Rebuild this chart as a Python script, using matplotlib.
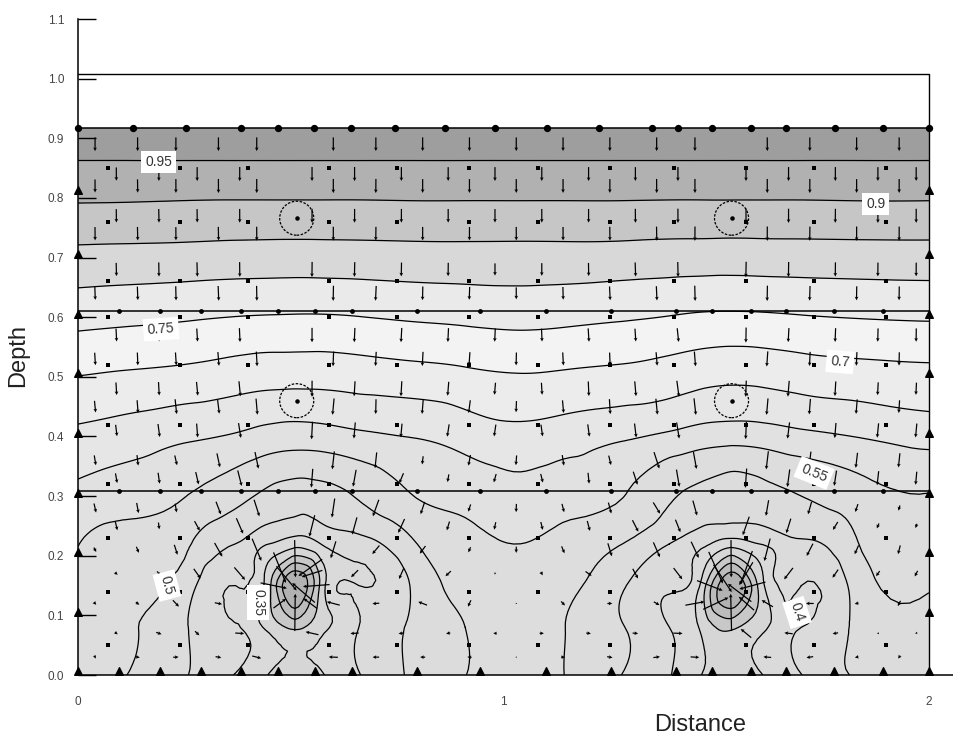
import numpy as np
import matplotlib
matplotlib.use("Agg")
import matplotlib.pyplot as plt
import matplotlib.tri as mtri
from matplotlib.patches import Ellipse

plt.rcParams['font.family'] = ['Liberation Sans', 'DejaVu Sans']

# total head at mesh nodes (rows = node_y, cols = node_x)
node_x = [0.0, 0.12, 0.25, 0.37, 0.45, 0.51, 0.57, 0.66, 0.78, 0.91,
          1.04, 1.14, 1.28, 1.39, 1.47, 1.535, 1.60, 1.70, 1.82, 2.0]
node_y = [0.0, 0.08, 0.15, 0.22, 0.31, 0.40, 0.50, 0.61, 0.70, 0.79, 0.86, 0.917]

head_00 = [0.515, 0.499, 0.454, 0.398, 0.347, 0.32, 0.345, 0.398, 0.455, 0.499,
           0.525, 0.501, 0.449, 0.403, 0.347, 0.32, 0.345, 0.399, 0.452, 0.48]
head_08 = [0.528, 0.505, 0.455, 0.405, 0.335, 0.29, 0.335, 0.40, 0.455, 0.50,
           0.528, 0.502, 0.452, 0.40, 0.335, 0.29, 0.335, 0.40, 0.455, 0.485]
head_15 = [0.54, 0.515, 0.475, 0.40, 0.31, 0.15, 0.31, 0.40, 0.45, 0.52,
           0.53, 0.515, 0.455, 0.41, 0.32, 0.15, 0.31, 0.40, 0.46, 0.505]
head_22 = [0.551, 0.53, 0.51, 0.45, 0.40, 0.37, 0.40, 0.43, 0.49, 0.535,
           0.55, 0.535, 0.50, 0.45, 0.41, 0.372, 0.40, 0.44, 0.49, 0.526]
head_31 = [0.591, 0.575, 0.556, 0.522, 0.495, 0.484, 0.49, 0.51, 0.552, 0.57,
           0.588, 0.575, 0.555, 0.51, 0.49, 0.478, 0.485, 0.505, 0.53, 0.552]
head_40 = [0.638, 0.625, 0.608, 0.595, 0.58, 0.575, 0.578, 0.59, 0.601, 0.62,
           0.635, 0.625, 0.607, 0.59, 0.575, 0.57, 0.573, 0.587, 0.60, 0.619]
head_50 = [0.699, 0.692, 0.685, 0.674, 0.668, 0.667, 0.667, 0.672, 0.679, 0.688,
           0.696, 0.692, 0.685, 0.675, 0.664, 0.66, 0.662, 0.671, 0.678, 0.685]
head_61 = [0.773, 0.768, 0.7625, 0.757, 0.755, 0.754, 0.754, 0.757, 0.763, 0.768,
           0.772, 0.769, 0.762, 0.756, 0.751, 0.75, 0.751, 0.755, 0.759, 0.7625]
head_70 = [0.835, 0.833, 0.831, 0.828, 0.827, 0.8265, 0.827, 0.828, 0.83, 0.831,
           0.831, 0.831, 0.829, 0.826, 0.825, 0.824, 0.825, 0.826, 0.827, 0.828]
head_79 = [0.899, 0.898, 0.896, 0.895, 0.895, 0.895, 0.895, 0.895, 0.896, 0.896,
           0.896, 0.896, 0.896, 0.895, 0.895, 0.895, 0.895, 0.895, 0.896, 0.896]
head_86 = [0.948] * 20
head_92 = [0.99] * 20

# contour levels and band shading
contour_levels = [0.2, 0.25, 0.3, 0.35, 0.4, 0.45, 0.5, 0.55, 0.6, 0.65,
                  0.7, 0.75, 0.8, 0.85, 0.9, 0.95]
fill_levels = [0.0, 0.15, 0.2, 0.25, 0.3, 0.35, 0.4, 0.45, 0.5, 0.55, 0.6,
               0.65, 0.7, 0.75, 0.8, 0.85, 0.9, 0.95, 1.05]
fill_colors = ['#a6a6a6', '#b2b2b2', '#bcbcbc', '#c8c8c8', '#d6d6d6', '#dadada',
               '#dbdbdb', '#dcdcdc', '#dddddd', '#e1e1e1', '#e6e6e6', '#ececec',
               '#f3f3f3', '#eaeaea', '#d8d8d8', '#c6c6c6', '#b1b1b1', '#9e9e9e']

# contour labels
label_text = ['0.95', '0.9', '0.75', '0.7', '0.55', '0.5', '0.35', '0.4']
label_x = [0.189, 1.875, 0.195, 1.791, 1.73, 0.209, 0.423, 1.69]
label_y = [0.860, 0.790, 0.580, 0.525, 0.339, 0.150, 0.122, 0.105]
label_rot = [0, 0, 4, -5, -22, -75, -90, -72]

# geometry
domain_width = 2.0
layer_tops = [0.309, 0.61, 0.917]
pond_level = 1.007
drain_x = [0.51, 1.535]
drain_y = 0.15
bottom_tri_x = [0.0, 0.097, 0.193, 0.29, 0.382, 0.471, 0.556, 0.643, 0.797, 0.945,
                1.1, 1.253, 1.406, 1.491, 1.581, 1.663, 1.778, 1.891, 2.0]
side_tri_y = [0.105, 0.206, 0.306, 0.406, 0.507, 0.605, 0.706, 0.813]
top_node_x = [0.0, 0.13, 0.254, 0.384, 0.471, 0.554, 0.641, 0.744, 0.862, 0.98,
              1.102, 1.225, 1.35, 1.409, 1.491, 1.581, 1.663, 1.779, 1.892, 2.0]
circle_x = [0.514, 1.536, 0.514, 1.536]
circle_y = [0.766, 0.766, 0.46, 0.46]

# flow vector sample points (two staggered sets + a ring round each drain)
arrow_x_a = [0.04, 0.14, 0.23, 0.33, 0.42, 0.60, 0.70, 0.81, 0.92, 1.03,
             1.14, 1.25, 1.36, 1.45, 1.62, 1.72, 1.83, 1.93]
arrow_x_b = [0.09, 0.19, 0.28, 0.38, 0.55, 0.65, 0.76, 0.87, 0.98, 1.09,
             1.20, 1.31, 1.41, 1.57, 1.67, 1.78, 1.88, 1.97]
arrow_y_a = [0.03, 0.12, 0.21, 0.28, 0.36, 0.45, 0.53, 0.64, 0.74, 0.82, 0.89]
arrow_y_b = [0.07, 0.17, 0.25, 0.33, 0.41, 0.48, 0.57, 0.68, 0.77, 0.84]
star_dx = [0.05, 0.036, 0.0, -0.036, -0.05, -0.036, 0.0, 0.036, 0.02, -0.02]
star_dy = [0.0, 0.03, 0.045, 0.03, 0.0, -0.03, -0.045, -0.03, -0.012, 0.012]
dot_x = [0.07, 0.24, 0.40, 0.59, 0.75, 0.92, 1.08, 1.25, 1.40, 1.57, 1.73, 1.90]
dot_y = [0.05, 0.14, 0.23, 0.32, 0.42, 0.52, 0.60, 0.66, 0.76, 0.85]

fig = plt.figure(figsize=(9.54, 7.4), dpi=100)
ax = fig.add_axes([0.0818, 0.0878, 0.9187, 0.8865])

X, Y = np.meshgrid(node_x, node_y)
H = np.array([head_00, head_08, head_15, head_22, head_31, head_40, head_50,
              head_61, head_70, head_79, head_86, head_92])
tri = mtri.Triangulation(X.ravel(), Y.ravel())
refiner = mtri.UniformTriRefiner(tri)
tri_r, h_r = refiner.refine_field(H.ravel(), subdiv=3)

ax.tricontourf(tri_r, h_r, levels=fill_levels, colors=fill_colors)
ax.tricontour(tri_r, h_r, levels=contour_levels, colors='k', linewidths=0.9)

# material boundaries, pond box, right edge
for yl in layer_tops:
    ax.plot([0, domain_width], [yl, yl], color='k', lw=1.1)
ax.plot([0, domain_width, domain_width], [pond_level, pond_level, 0], color='k', lw=1.0)
for yl in layer_tops[:2]:
    ax.scatter(bottom_tri_x[1:-1], [yl] * (len(bottom_tri_x) - 2), s=6, color='k', zorder=4)

# flow vectors from head gradient
interp = mtri.CubicTriInterpolator(tri, H.ravel(), kind='geom')
star_x = np.array([dxc + d for dxc in drain_x for d in star_dx])
star_y = np.array([drain_y + d for dxc in drain_x for d in star_dy])
ga_x, ga_y = np.meshgrid(arrow_x_a, arrow_y_a)
gb_x, gb_y = np.meshgrid(arrow_x_b, arrow_y_b)
sets = [(ga_x, ga_y, 1.6), (gb_x, gb_y, 1.6), (star_x, star_y, 2.0)]
for PX, PY, cap_len in sets:
    gx, gy = interp.gradient(PX, PY)
    u = -np.ma.filled(gx, 0.0)
    v = -np.ma.filled(gy, 0.0)
    mag = np.hypot(u, v)
    cap = np.where(mag > cap_len, cap_len / np.maximum(mag, 1e-9), 1.0)
    ax.quiver(PX, PY, u * cap, v * cap, angles='xy', scale_units='xy', scale=32,
              pivot='middle', width=0.0014, headwidth=3.0, headlength=3.0,
              headaxislength=2.6, color='k', zorder=5)

DX, DY = np.meshgrid(dot_x, dot_y)
ax.scatter(DX.ravel(), DY.ravel(), s=6, marker='s', color='k', zorder=5, linewidths=0)

# boundary markers
ax.scatter(top_node_x, [layer_tops[2]] * len(top_node_x), s=18, color='k', zorder=6, clip_on=False)
ax.scatter(bottom_tri_x, [0.006] * len(bottom_tri_x), s=30, marker='^', color='k', zorder=6, clip_on=False)
ax.scatter([0.0] * len(side_tri_y), side_tri_y, s=30, marker='^', color='k', zorder=6, clip_on=False)
ax.scatter([domain_width] * len(side_tri_y), side_tri_y, s=30, marker='^', color='k', zorder=6, clip_on=False)

# circles
for cx, cy in zip(circle_x, circle_y):
    ax.add_patch(Ellipse((cx, cy), 0.08, 0.057, fill=False, ec='k', lw=0.9,
                         ls=(0, (2, 1.2)), zorder=6))
ax.scatter(circle_x, circle_y, s=5, color='k', zorder=6)

# contour labels
for t, lx, ly, r in zip(label_text, label_x, label_y, label_rot):
    ax.text(lx, ly, t, fontsize=10, color='#333333', rotation=r, ha='center', va='center',
            rotation_mode='anchor', zorder=8,
            bbox=dict(boxstyle='square,pad=0.3', fc='white', ec='none'))

ax.set_xlim(0, 2.06)
ax.set_ylim(0, 1.1)
ax.spines['top'].set_visible(False)
ax.spines['right'].set_visible(False)
ax.spines['left'].set_linewidth(1.1)
ax.spines['bottom'].set_linewidth(1.1)
ax.set_yticks(np.arange(0, 1.11, 0.1))
ax.set_yticklabels(['0.0', '0.1', '0.2', '0.3', '0.4', '0.5', '0.6', '0.7',
                    '0.8', '0.9', '1.0', '1.1'])
ax.set_xticks([0, 1, 2])
ax.set_xticklabels(['0', '1', '2'])
ax.tick_params(axis='y', direction='in', length=13, width=1.0, pad=10,
               labelsize=8.5, labelcolor='#444444')
ax.tick_params(axis='x', length=0, pad=15, labelsize=8.5, labelcolor='#444444')

fig.text(0.0189, 0.52, 'Depth', rotation=90, fontsize=17, color='#222222',
         ha='center', va='center')
fig.text(0.7338, 0.0203, 'Distance', fontsize=17, color='#222222',
         ha='center', va='center')

fig.savefig('out.png', dpi=100)
